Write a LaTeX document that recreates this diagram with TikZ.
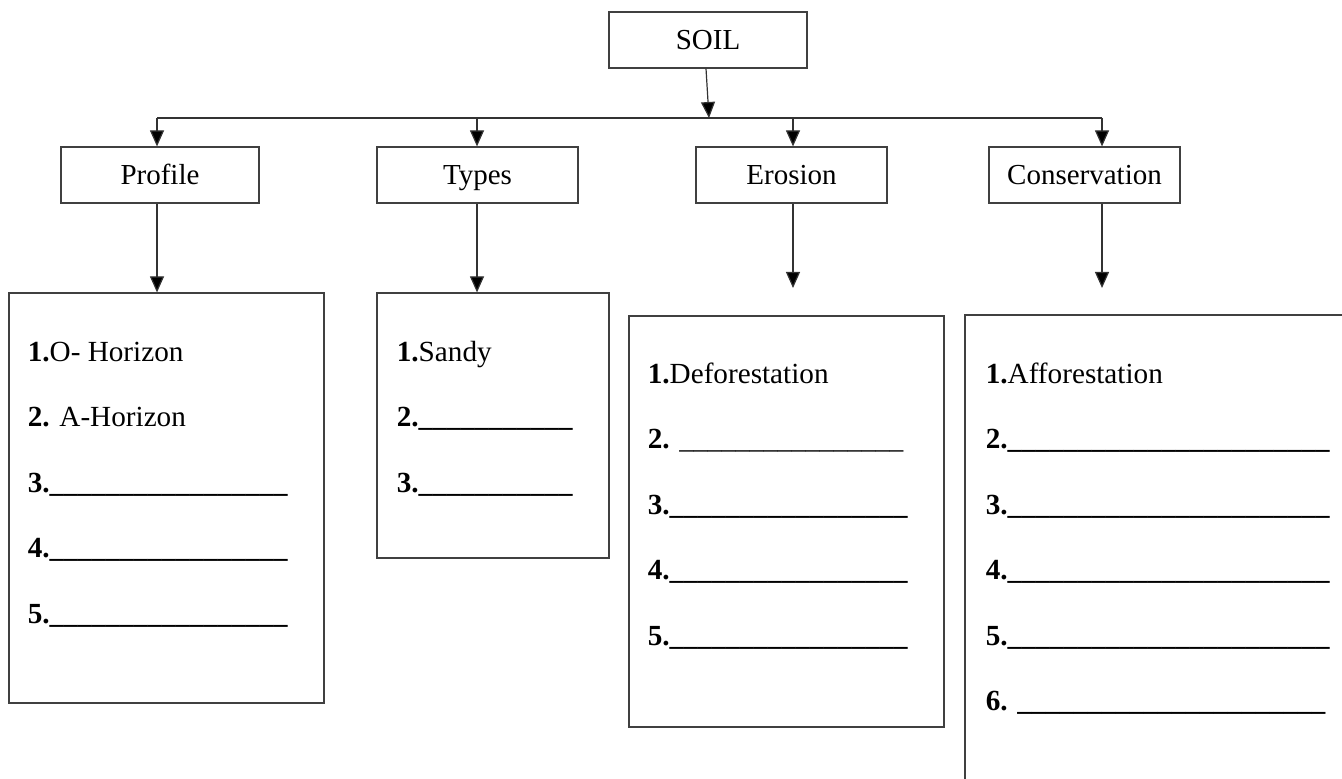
\documentclass[tikz,border=0pt]{standalone}
\usepackage{fontspec}
\setmainfont{Liberation Serif}
\usetikzlibrary{arrows.meta}
\usetikzlibrary{calc}
\usetikzlibrary{positioning}

\newcommand{\blanks}[1]{{\fontsize{14}{17}\selectfont\foreach \k in {1,...,#1}{\_}}}
\newcommand{\listgap}{-32.75pt}

\begin{document}
\begin{tikzpicture}[x=0.5pt,y=-0.5pt,
    box/.style={draw=black!75,line width=0.6pt,minimum height=28pt,inner sep=0pt,text height=9.5pt,text depth=0pt,font=\fontsize{14.5}{17}\selectfont},
    listbox/.style={draw=black!75,line width=0.6pt,inner sep=0pt},
    item/.style={anchor=base west,inner sep=0pt,font=\fontsize{14.6}{17}\selectfont},
    arr/.style={draw=black!80,line width=0.6pt,-{Triangle[length=8pt,width=7pt,fill=black]}}]
  \clip (0,0) rectangle (1342,779);

  % heads
  \node[box,minimum width=99pt] (soil) at (708,40) {SOIL};
  \node[box,minimum width=99pt] (profile) at (160,175) {Profile};
  \node[box,minimum width=100.5pt] (types) at (477.5,175) {Types};
  \node[box,minimum width=95.5pt] (erosion) at (791.5,175) {Erosion};
  \node[box,minimum width=95.5pt] (conservation) at (1084.5,175) {Conservation};

  % lists
  \node[listbox,minimum width=157.5pt,minimum height=205pt] (profileList) at (166.5,498) {};
  \node[listbox,minimum width=116pt,minimum height=132.5pt] (typesList) at (493,425.5) {};
  \node[listbox,minimum width=157.5pt,minimum height=205.5pt] (erosionList) at (786.5,521.5) {};
  \node[listbox,minimum width=200pt,minimum height=250pt] (conservationList) at (1165,565) {};

  % bus
  \coordinate (busMid) at (709,118);
  \coordinate (busProfile) at (157,118);
  \coordinate (busTypes) at (477,118);
  \coordinate (busErosion) at (793,118);
  \coordinate (busConservation) at (1102,118);
  \coordinate (endErosion) at (793,288);
  \coordinate (endConservation) at (1102,288);

  \draw[arr] ([xshift=-1pt]soil.south) -- (busMid);
  \draw[draw=black!80,line width=0.6pt] (busProfile) -- (busConservation);
  \draw[arr] (busProfile) -- (busProfile |- profile.north);
  \draw[arr] (busTypes) -- (busTypes |- types.north);
  \draw[arr] (busErosion) -- (busErosion |- erosion.north);
  \draw[arr] (busConservation) -- (busConservation |- conservation.north);

  \draw[arr] (busProfile |- profile.south) -- (busProfile |- profileList.north);
  \draw[arr] (busTypes |- types.south) -- (busTypes |- typesList.north);
  \draw[arr] (busErosion |- erosion.south) -- (endErosion);
  \draw[arr] (busConservation |- conservation.south) -- (endConservation);

  % profile items
  \node[item] (p1) at ($(profileList.north west)+(19,69)$) {\textbf{1.}O- Horizon};
  \node[item] (p2) at ([yshift=\listgap]p1.base west) {\textbf{2.} A-Horizon};
  \node[item] (p3) at ([yshift=\listgap]p2.base west) {\textbf{3.\blanks{17}}};
  \node[item] (p4) at ([yshift=\listgap]p3.base west) {\textbf{4.\blanks{17}}};
  \node[item] (p5) at ([yshift=\listgap]p4.base west) {\textbf{5.\blanks{17}}};

  % types items
  \node[item] (t1) at ($(typesList.north west)+(20,69)$) {\textbf{1.}Sandy};
  \node[item] (t2) at ([yshift=\listgap]t1.base west) {\textbf{2.\blanks{11}}};
  \node[item] (t3) at ([yshift=\listgap]t2.base west) {\textbf{3.\blanks{11}}};

  % erosion items
  \node[item] (e1) at ($(erosionList.north west)+(19,68)$) {\textbf{1.}Deforestation};
  \node[item] (e2) at ([yshift=\listgap]e1.base west) {\textbf{2.} \blanks{16}};
  \node[item] (e3) at ([yshift=\listgap]e2.base west) {\textbf{3.\blanks{17}}};
  \node[item] (e4) at ([yshift=\listgap]e3.base west) {\textbf{4.\blanks{17}}};
  \node[item] (e5) at ([yshift=\listgap]e4.base west) {\textbf{5.\blanks{17}}};

  % conservation items
  \node[item] (c1) at ($(conservationList.north west)+(21,69)$) {\textbf{1.}Afforestation};
  \node[item] (c2) at ([yshift=\listgap]c1.base west) {\textbf{2.\blanks{23}}};
  \node[item] (c3) at ([yshift=\listgap]c2.base west) {\textbf{3.\blanks{23}}};
  \node[item] (c4) at ([yshift=\listgap]c3.base west) {\textbf{4.\blanks{23}}};
  \node[item] (c5) at ([yshift=\listgap]c4.base west) {\textbf{5.\blanks{23}}};
  \node[item] (c6) at ([yshift=\listgap]c5.base west) {\textbf{6. \blanks{22}}};
\end{tikzpicture}
\end{document}
